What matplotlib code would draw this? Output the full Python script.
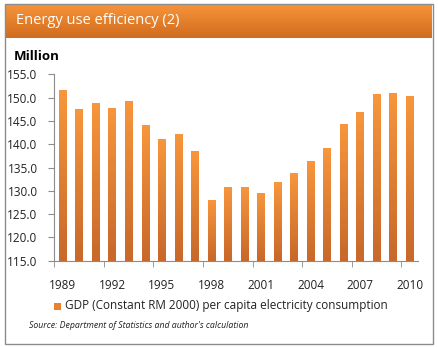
import numpy as np
import matplotlib.pyplot as plt
from matplotlib.patches import Rectangle
from matplotlib.colors import LinearSegmentedColormap

# данные с картинки
years = list(range(1989, 2011))
values = [151.6, 147.5, 148.8, 147.8, 149.3, 144.1, 141.1, 142.2, 138.5, 128.0,
          130.9, 130.9, 129.5, 131.9, 133.8, 136.4, 139.2, 144.3, 146.9, 150.8,
          151.0, 150.3]
yticks = [115, 120, 125, 130, 135, 140, 145, 150, 155]
label_years = [1989, 1992, 1995, 1998, 2001, 2004, 2007, 2010]

plt.rcParams['font.family'] = ['Open Sans', 'DejaVu Sans']

W, H = 438, 347
fig = plt.figure(figsize=(W / 100, H / 100), dpi=100)
fig.patch.set_facecolor('white')

# рамка вокруг всего
fig.patches.append(Rectangle((5 / W, 1 - 344 / H), 428 / W, 340 / H, transform=fig.transFigure,
                             fill=False, edgecolor='#8c8c8c', lw=1.0))

# оранжевая плашка заголовка с градиентом
tax = fig.add_axes([5 / W, 1 - 38 / H, 427 / W, 34 / H])
grad_title = LinearSegmentedColormap.from_list('t', ['#d06c1e', '#f7943a'])
tax.imshow(np.linspace(0, 1, 50).reshape(-1, 1), aspect='auto', cmap=grad_title,
           origin='lower', extent=[0, 1, 0, 1])
tax.set_axis_off()
tax.text(0.025, 0.5, 'Energy use efficiency (2)', color='white', fontsize=10.5,
         va='center', ha='left', transform=tax.transAxes)

ax = fig.add_axes([54.3 / W, 1 - 260.7 / H, (418 - 54.3) / W, (260.7 - 74.3) / H])
x = np.arange(len(years))
bw = 0.45
bars = ax.bar(x, values, width=bw, color='#e8822e', zorder=2)

# градиент на столбиках
grad_bar = LinearSegmentedColormap.from_list('b', ['#c8682a', '#f7963c'])
for b in bars:
    im = ax.imshow(np.linspace(0, 1, 60).reshape(-1, 1), aspect='auto', cmap=grad_bar,
                   origin='lower', zorder=3,
                   extent=[b.get_x(), b.get_x() + b.get_width(), 115, b.get_height()])
    im.set_clip_path(b)

ax.set_xlim(-0.5, len(years) - 0.5)
ax.set_ylim(115, 155)
ax.set_yticks(yticks)
ax.set_yticklabels([f'{v:.1f}' for v in yticks], fontsize=8.5, color='#222222')
ax.set_xticks([years.index(y) for y in label_years])
ax.set_xticklabels([str(y) for y in label_years], fontsize=8.5, color='#222222')
ax.set_xticks(np.arange(-0.5, len(years), 3), minor=True)
ax.tick_params(axis='x', which='major', length=0, pad=13)
ax.tick_params(axis='x', which='minor', length=4, color='#8c8c8c', direction='out')
ax.tick_params(axis='y', length=4, color='#8c8c8c', direction='out', pad=8)
for s in ['top', 'right']:
    ax.spines[s].set_visible(False)
for s in ['left', 'bottom']:
    ax.spines[s].set_color('#8c8c8c')
ax.set_aspect('auto')

fig.text(14 / W, 1 - 57 / H, 'Million', fontsize=9.5, fontweight='bold', va='center', ha='left')

# легенда
fig.patches.append(Rectangle((54 / W, 1 - 310 / H), 7 / W, 7 / H, transform=fig.transFigure,
                             facecolor='#e8822e', edgecolor='none'))
fig.text(65 / W, 1 - 306 / H, 'GDP (Constant RM 2000) per capita electricity consumption',
         fontsize=8.5, va='center', ha='left', color='#222222')
fig.text(29 / W, 1 - 326 / H, "Source: Department of Statistics and author's calculation",
         fontsize=6.3, style='italic', va='center', ha='left', color='#222222')

fig.savefig('out.png', dpi=100)
